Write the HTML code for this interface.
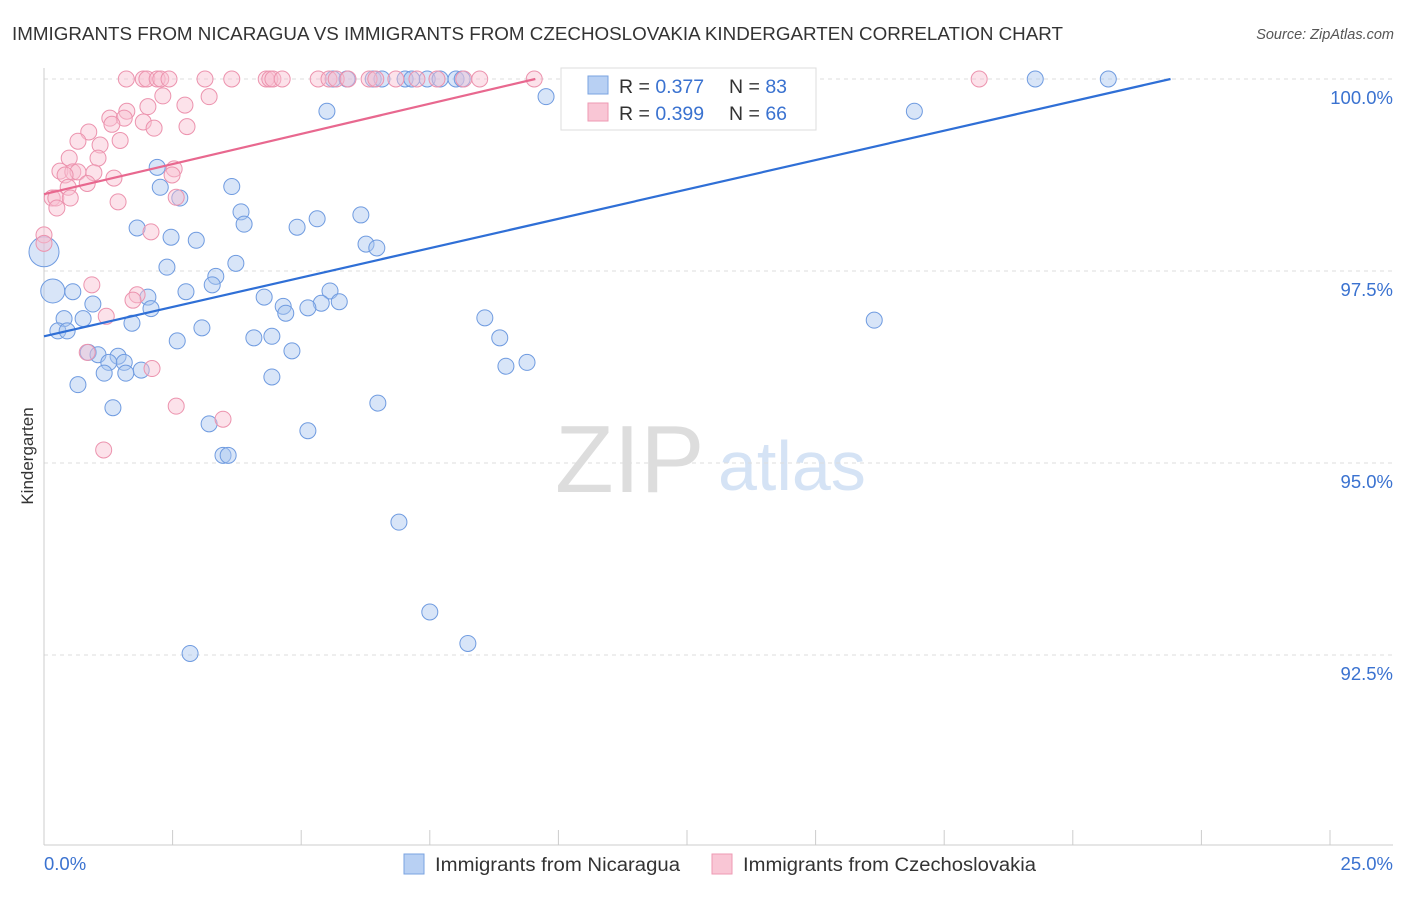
<!DOCTYPE html>
<html><head><meta charset="utf-8"><style>
body{margin:0;background:#fff;font-family:"Liberation Sans",sans-serif}
svg text{font-family:"Liberation Sans",sans-serif}
</style></head><body>
<svg id="chart" width="1406" height="892" viewBox="0 0 1406 892">
<text x="12" y="40" font-size="18.5" fill="#333" textLength="1051" lengthAdjust="spacingAndGlyphs">IMMIGRANTS FROM NICARAGUA VS IMMIGRANTS FROM CZECHOSLOVAKIA KINDERGARTEN CORRELATION CHART</text>
<text x="1394" y="39" font-size="14.5" fill="#555" font-style="italic" text-anchor="end">Source: ZipAtlas.com</text>
<text x="33" y="456" font-size="17" fill="#333" transform="rotate(-90 33 456)" text-anchor="middle">Kindergarten</text>
<text x="555" y="492" font-size="96" fill="#ddd" font-family="Liberation Serif">ZIP</text>
<text x="718" y="490" font-size="70" fill="#d5e3f5">atlas</text>
<g id="grid"></g><g id="axes"></g><g id="pts"></g><g id="lines"></g>
<g>
<rect x="561" y="68" width="255" height="62" fill="#fff" stroke="#ddd"/>
<rect x="588" y="76" width="20" height="18" fill="#b8d0f3" stroke="#7aa3e0"/>
<rect x="588" y="103" width="20" height="18" fill="#f9c6d5" stroke="#ee9ab3"/>
<text x="619" y="93" font-size="19.5" fill="#333">R = <tspan fill="#3a72d0">0.377</tspan></text>
<text x="729" y="93" font-size="19.5" fill="#333">N = <tspan fill="#3a72d0">83</tspan></text>
<text x="619" y="120" font-size="19.5" fill="#333">R = <tspan fill="#3a72d0">0.399</tspan></text>
<text x="729" y="120" font-size="19.5" fill="#333">N = <tspan fill="#3a72d0">66</tspan></text>
</g>
<g>
<rect x="404" y="854" width="20" height="20" fill="#b8d0f3" stroke="#7aa3e0"/>
<text x="435" y="871" font-size="19" fill="#333" textLength="245" lengthAdjust="spacingAndGlyphs">Immigrants from Nicaragua</text>
<rect x="712" y="854" width="20" height="20" fill="#f9c6d5" stroke="#ee9ab3"/>
<text x="743" y="871" font-size="19" fill="#333" textLength="293" lengthAdjust="spacingAndGlyphs">Immigrants from Czechoslovakia</text>
</g>
</svg>
<script>
const yTicks=[100,97.5,95,92.5];
const yTickLabels=["100.0%","97.5%","95.0%","92.5%"];
const xTickLabels=["0.0%","25.0%"];
const blueX=[10.77,11.98,5.62,5.89,6.4,6.57,7.02,7.15,7.45,7.7,8.01,8.13,19.27,20.69,9.76,5.5,16.92,2.2,2.26,3.65,2.64,3.83,3.89,6.16,5.31,1.81,4.92,2.47,2.96,6.26,6.47,0,2.39,3.73,3.34,3.27,2.76,0.56,0.17,4.28,5.56,2.02,0.95,2.08,4.65,5.39,5.74,5.13,4.7,0.39,0.76,8.57,16.14,1.71,3.07,4.08,4.43,8.86,0.27,0.45,2.59,0.86,4.82,1.05,1.44,1.56,1.26,1.89,1.17,1.59,8.98,9.39,4.43,0.66,6.49,1.34,3.21,5.13,3.48,3.58,6.9,7.5,8.24,2.84];
const blueY=[99.99,100,100,100,100,100,100,100,100,100,100,100,100,100,99.77,99.58,99.58,98.85,98.59,98.6,98.45,98.27,98.11,98.23,98.18,98.06,98.07,97.94,97.9,97.85,97.8,97.75,97.55,97.6,97.43,97.32,97.23,97.23,97.24,97.16,97.24,97.16,97.07,97.01,97.04,97.08,97.1,97.02,96.95,96.88,96.88,96.89,96.86,96.82,96.76,96.63,96.65,96.63,96.72,96.72,96.59,96.44,96.46,96.41,96.39,96.31,96.31,96.21,96.17,96.17,96.26,96.31,96.12,96.02,95.78,95.72,95.51,95.42,95.1,95.1,94.23,93.06,92.65,92.52];
const blueR=[11,8,8,8,8,8,8,8,8,8,8,8,8,8,8,8,8,8,8,8,8,8,8,8,8,8,8,8,8,8,8,15,8,8,8,8,8,8,12,8,8,8,8,8,8,8,8,8,8,8,8,8,8,8,8,8,8,8,8,8,8,8,8,8,8,8,8,8,8,8,8,8,8,8,8,8,8,8,8,8,8,8,8,8];
const pinkX=[1.6,1.93,2.0,2.2,2.27,2.43,3.13,3.65,4.32,4.39,4.45,4.63,5.33,5.54,5.68,5.91,6.32,6.45,6.84,7.25,7.64,8.16,8.47,9.53,18.18,2.31,3.21,1.61,2.02,2.74,1.28,1.56,1.93,1.32,2.14,2.78,0.87,1.48,0.66,1.09,0.49,1.05,2.53,0.31,0.56,0.66,0.97,1.36,0.41,2.49,0.84,0.47,0.16,0.23,0.51,2.57,0.25,1.44,0,2.08,0,0.93,1.81,1.73,1.21,0.84];
const pinkY=[100,100,100,100,100,100,100,100,100,100,100,100,100,100,100,100,100,100,100,100,100,100,100,100,100,99.78,99.77,99.58,99.64,99.66,99.49,99.49,99.44,99.41,99.36,99.38,99.31,99.2,99.19,99.14,98.97,98.97,98.83,98.8,98.79,98.79,98.78,98.71,98.75,98.75,98.64,98.59,98.45,98.45,98.45,98.46,98.32,98.4,97.97,98.01,97.86,97.32,97.19,97.12,96.91,96.44];
const pinkExtraX=[2.1,2.57,3.48,1.16];
const pinkExtraY=[96.23,95.74,95.57,95.17];
const blueLine=[0,96.65,21.9,100];
const pinkLine=[0,98.5,9.55,100];
const NS="http://www.w3.org/2000/svg";
const sx=v=>44+v/25*1286;
const sy=v=>79+(100-v)/2.5*192;
function mk(t,a,p){const e=document.createElementNS(NS,t);for(const k in a)e.setAttribute(k,a[k]);p.appendChild(e);return e;}
const grid=document.getElementById('grid'),axes=document.getElementById('axes');
yTicks.forEach((t,i)=>{
 const l=mk('line',{x1:44,x2:1393,y1:sy(t),y2:sy(t),stroke:'#ddd','stroke-dasharray':'4,4'},grid);
 
 
 const tx=mk('text',{x:1393,y:sy(t)+25,'font-size':18.5,fill:'#3a72d0','text-anchor':'end'},axes);
 tx.textContent=yTickLabels[i];
 
 
});
const yl=mk('line',{x1:44,x2:44,y1:68,y2:845,stroke:'#ccc'},axes);


const xl=mk('line',{x1:44,x2:1393,y1:845,y2:845,stroke:'#ccc'},axes);


for(let i=0;i<=10;i++){
 const t=mk('line',{x1:sx(i*2.5),x2:sx(i*2.5),y1:830,y2:845,stroke:'#ccc'},axes);
 
 
}
[[44,'start',0],[1393,'end',1]].forEach(([x,a,i])=>{
 const t=mk('text',{x:x,y:870,'font-size':18.5,fill:'#3a72d0','text-anchor':a},axes);
 t.textContent=xTickLabels[i];
 
 
});
const pts=document.getElementById('pts');
function dot(x,y,r,f,s,name){
 const c=mk('circle',{cx:sx(x),cy:sy(y),r:r,fill:f,'fill-opacity':0.45,stroke:s,'stroke-width':1},pts);
 
 
}
blueX.forEach((x,i)=>dot(x,blueY[i],blueR[i]||8,'#a9c6f0','#6f9be0','nicaragua-point'));
pinkX.forEach((x,i)=>dot(x,pinkY[i],8,'#f8bfd0','#ec93ae','czechoslovakia-point'));
pinkExtraX.forEach((x,i)=>dot(x,pinkExtraY[i],8,'#f8bfd0','#ec93ae','czechoslovakia-point'));
const lines=document.getElementById('lines');
const bl=mk('line',{x1:sx(blueLine[0]),y1:sy(blueLine[1]),x2:sx(blueLine[2]),y2:sy(blueLine[3]),stroke:'#2f6fd6','stroke-width':2.2},lines);


const pl=mk('line',{x1:sx(pinkLine[0]),y1:sy(pinkLine[1]),x2:sx(pinkLine[2]),y2:sy(pinkLine[3]),stroke:'#e8688f','stroke-width':2.2},lines);


</script>
</body></html>
